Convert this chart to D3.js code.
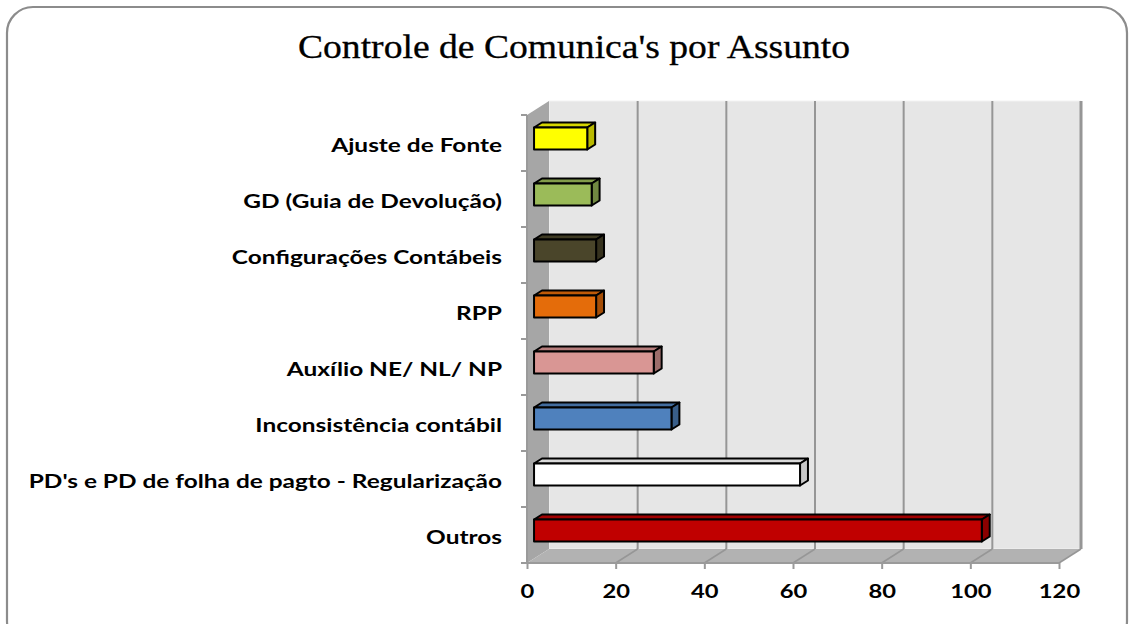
<!DOCTYPE html>
<html><head><meta charset="utf-8">
<script src="https://cdn.jsdelivr.net/npm/d3@7"></script>
<style>body{margin:0;background:#fff}svg{display:block}</style>
</head><body>
<svg id="c" width="1129" height="624"></svg>
<script>
// Data (bottom to top, as in the chart)
const categories = ["Outros","PD's e PD de folha de pagto - Regularização","Inconsistência contábil","Auxílio NE/ NL/ NP","RPP","Configurações Contábeis","GD (Guia de Devolução)","Ajuste de Fonte"];
const values = [101, 60, 31, 27, 14, 14, 13, 12];
const colors = ["#c00000","#ffffff","#4f81bd","#d99694","#e46c0a","#4a452a","#9bbb59","#ffff00"];
const xTicks = [0,20,40,60,80,100,120];
const title = "Controle de Comunica's por Assunto";

const svg = d3.select("#c");
const DX = 22, DY = -14;          // depth offset
const x = d3.scaleLinear().domain([0,120]).range([527,1059]);
const y = d3.scaleBand().domain(categories.slice().reverse()).range([115,563]).paddingInner(0).paddingOuter(0);
const P = (v, yy, z) => [x(v) + DX*z, yy + DY*z];
const pts = a => a.map(p => p.join(",")).join(" ");

// outer frame
svg.append("rect").attr("x",7).attr("y",7).attr("width",1120).attr("height",640)
  .attr("rx",26).attr("fill","#fff").attr("stroke","#8c8c8c").attr("stroke-width",2.2);

// title
svg.append("text").attr("transform","translate(574,58) scale(1.14,1)").attr("text-anchor","middle")
  .attr("font-family","Liberation Serif, serif").attr("font-size",33).attr("fill","#000")
  .attr("stroke","#000").attr("stroke-width",0.3).text(title);

const y0 = 115, y1 = 563;
// back wall
svg.append("polygon").attr("points", pts([P(0,y0,1),P(120,y0,1),P(120,y1,1),P(0,y1,1)]))
  .attr("fill","#e6e6e6").attr("stroke","#f2f2f2").attr("stroke-width",1);
// side wall
svg.append("polygon").attr("points", pts([P(0,y0,0),P(0,y0,1),P(0,y1,1),P(0,y1,0)]))
  .attr("fill","#a6a6a6");
// floor
svg.append("polygon").attr("points", pts([P(0,y1,0),P(0,y1,1),P(120,y1,1),P(120,y1,0)]))
  .attr("fill","#b2b2b2");

// gridlines on wall and floor
xTicks.forEach(t => {
  if (t === 0) return;
  svg.append("line").attr("x1",P(t,y0,1)[0]).attr("y1",P(t,y0,1)[1]).attr("x2",P(t,y1,1)[0]).attr("y2",P(t,y1,1)[1])
    .attr("stroke","#969696").attr("stroke-width", t===120?3:2);
  svg.append("line").attr("x1",P(t,y1,1)[0]).attr("y1",P(t,y1,1)[1]).attr("x2",P(t,y1,0)[0]).attr("y2",P(t,y1,0)[1])
    .attr("stroke","#969696").attr("stroke-width",1.5);
});
// floor front & side edges
svg.append("line").attr("x1",x(0)).attr("y1",y1).attr("x2",x(120)).attr("y2",y1).attr("stroke","#9a9a9a").attr("stroke-width",2);
svg.append("line").attr("x1",x(0)).attr("y1",y0).attr("x2",x(0)).attr("y2",y1).attr("stroke","#9a9a9a").attr("stroke-width",2);

// x axis ticks + labels
const xAxis = d3.axisBottom(x).tickValues(xTicks).tickSize(6).tickPadding(16);
const gx = svg.append("g").attr("transform",`translate(0,${y1})`).call(xAxis);
gx.select(".domain").remove();
gx.selectAll(".tick line").attr("stroke","#9a9a9a").attr("stroke-width",2);
gx.selectAll(".tick text").attr("font-family","Lato, sans-serif").attr("font-weight","bold")
  .attr("font-size",19).attr("fill","#000").attr("transform","scale(1.25,1)")
  .attr("x",0);

// y category ticks at band boundaries
const bounds = y.domain().map(c => y(c)).concat([y1]);
svg.append("g").selectAll("line").data(bounds).join("line")
  .attr("x1",x(0)-6).attr("x2",x(0)).attr("y1",d=>d).attr("y2",d=>d)
  .attr("stroke","#9a9a9a").attr("stroke-width",2);

// y labels
svg.append("g").selectAll("text").data(categories).join("text")
  .attr("transform",d => `translate(502,${y(d)+y.bandwidth()/2+8.5}) scale(1.32,1)`).attr("text-anchor","end")
  .attr("font-family","Lato, sans-serif").attr("font-weight","bold").attr("font-size",18.5).attr("fill","#000")
  .text(d=>d);

// 3D bars
const zf = 0.32, zb = 0.68, bh = 22;
const bars = svg.append("g");
categories.forEach((c,i) => {
  const v = values[i], col = d3.color(colors[i]);
  const cy = y(c) + y.bandwidth()/2;
  const t = cy - bh/2, b = cy + bh/2;
  const dark = colors[i]==="#ffffff" ? "#c8c8c8" : d3.color(colors[i]).darker(0.9).formatHex();
  const mid  = colors[i]==="#ffffff" ? "#d9d9d9" : d3.color(colors[i]).darker(0.5).formatHex();
  const sw = 2;
  bars.append("polygon").attr("points", pts([P(0,t,zf),P(v,t,zf),P(v,t,zb),P(0,t,zb)]))
    .attr("fill", mid).attr("stroke","#000").attr("stroke-width",sw).attr("stroke-linejoin","round");
  bars.append("polygon").attr("points", pts([P(v,t,zf),P(v,t,zb),P(v,b,zb),P(v,b,zf)]))
    .attr("fill", dark).attr("stroke","#000").attr("stroke-width",sw).attr("stroke-linejoin","round");
  bars.append("polygon").attr("points", pts([P(0,t,zf),P(v,t,zf),P(v,b,zf),P(0,b,zf)]))
    .attr("fill", col.formatHex()).attr("stroke","#000").attr("stroke-width",sw).attr("stroke-linejoin","round");
});
</script>
</body></html>
